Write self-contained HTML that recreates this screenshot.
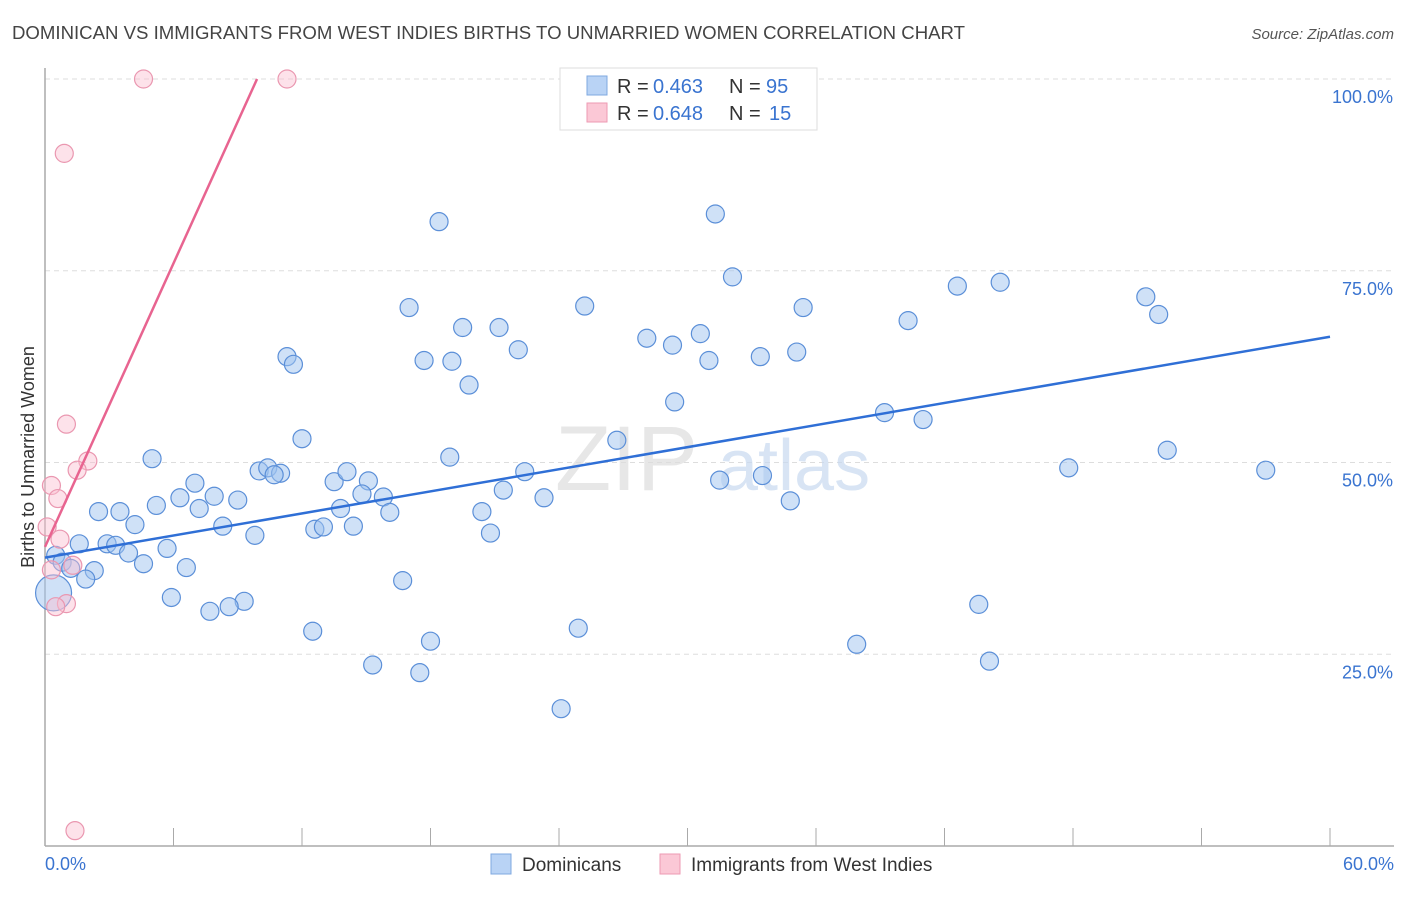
<!DOCTYPE html>
<html><head><meta charset="utf-8"><style>
body{margin:0;background:#fff;font-family:"Liberation Sans",sans-serif;}
svg text{font-family:"Liberation Sans",sans-serif;}
</style></head><body>
<svg id="chart" width="1406" height="892" viewBox="0 0 1406 892">
<text x="12" y="39" font-size="18" fill="#444" textLength="953" lengthAdjust="spacingAndGlyphs">DOMINICAN VS IMMIGRANTS FROM WEST INDIES BIRTHS TO UNMARRIED WOMEN CORRELATION CHART</text>
<text x="1394" y="39" font-size="15" fill="#555" font-style="italic" text-anchor="end">Source: ZipAtlas.com</text>
<g id="grid"></g>
<text x="555" y="490" font-size="92" fill="#ddd" font-family="Liberation Serif" opacity="0.7">ZIP</text>
<text x="718" y="490" font-size="72" fill="#c8daf0" opacity="0.7">atlas</text>
<line x1="45" y1="68" x2="45" y2="846" stroke="#aaa" stroke-width="1.5"/>
<line x1="45" y1="846" x2="1394" y2="846" stroke="#aaa" stroke-width="1.5"/>
<g id="ticks"></g>
<text transform="translate(34,457) rotate(-90)" font-size="18" fill="#333" text-anchor="middle">Births to Unmarried Women</text>
<text x="45" y="870" font-size="18" fill="#3a74d0">0.0%</text>
<text x="1394" y="870" font-size="18" fill="#3a74d0" text-anchor="end">60.0%</text>
<g id="points"></g>
<g id="trends"></g>
<g>
<rect x="560" y="68" width="257" height="62" fill="#fff" stroke="#ddd"/>
<rect x="587" y="76" width="20" height="19" fill="#b9d3f5" stroke="#7fa8e0"/>
<rect x="587" y="103" width="20" height="19" fill="#fbc8d6" stroke="#ee9ab3"/>
<text x="617" y="93" font-size="20" fill="#333">R =</text>
<text x="653" y="93" font-size="20" fill="#3a74d0">0.463</text>
<text x="729" y="93" font-size="20" fill="#333">N =</text>
<text x="766" y="93" font-size="20" fill="#3a74d0">95</text>
<text x="617" y="120" font-size="20" fill="#333">R =</text>
<text x="653" y="120" font-size="20" fill="#3a74d0">0.648</text>
<text x="729" y="120" font-size="20" fill="#333">N =</text>
<text x="769" y="120" font-size="20" fill="#3a74d0">15</text>
</g>
<g>
<rect x="491" y="854" width="20" height="20" fill="#b9d3f5" stroke="#7fa8e0"/>
<text x="522" y="871" font-size="19" fill="#333">Dominicans</text>
<rect x="660" y="854" width="20" height="20" fill="#fbc8d6" stroke="#ee9ab3"/>
<text x="691" y="871" font-size="19" fill="#333">Immigrants from West Indies</text>
</g>
</svg>
<script>
const yTicks=[25,50,75,100];
const yTickLabels=["25.0%","50.0%","75.0%","100.0%"];
const xTicks=[6,12,18,24,30,36,42,48,54,60];
const blueX=[18.4,31.3,32.1,17.0,25.2,35.4,42.6,44.6,51.4,52.0,40.3,19.5,21.2,22.1,28.1,29.3,30.6,31.0,33.4,35.1,11.3,11.6,17.7,19.0,19.8,29.4,39.2,41.0,26.7,12.0,5.0,18.9,52.4,57.0,33.5,7.0,13.5,10.0,10.4,11.0,10.7,14.1,22.4,47.8,15.1,31.5,21.4,14.8,15.8,23.3,34.8,6.3,7.9,9.0,5.2,7.2,13.8,20.4,16.1,2.5,3.5,4.2,8.3,9.8,12.6,13.0,14.4,20.8,1.6,2.9,3.3,3.9,5.7,0.5,0.8,1.2,4.6,6.6,2.3,1.9,5.9,9.3,8.6,7.7,16.7,43.6,12.5,18.0,24.9,37.9,15.3,17.5,44.1,24.1,0.4];
const blueY=[81.4,82.4,74.2,70.2,70.4,70.2,73.0,73.5,71.6,69.3,68.5,67.6,67.6,64.7,66.2,65.3,66.8,63.3,63.8,64.4,63.8,62.8,63.3,63.2,60.1,57.9,56.5,55.6,52.9,53.1,50.5,50.7,51.6,49.0,48.3,47.3,47.5,48.9,49.3,48.6,48.4,48.8,48.8,49.3,47.6,47.7,46.4,45.9,45.5,45.4,45.0,45.4,45.6,45.1,44.4,44.0,44.0,43.6,43.5,43.6,43.6,41.9,41.7,40.5,41.3,41.6,41.7,40.8,39.4,39.4,39.2,38.2,38.8,37.9,37.0,36.2,36.8,36.3,35.9,34.8,32.4,31.9,31.2,30.6,34.6,31.5,28.0,26.7,28.4,26.3,23.6,22.6,24.1,17.9,33.0];
const pinkX=[4.6,11.3,0.9,1.0,2.0,1.5,0.3,0.6,0.1,0.7,1.3,1.0,0.5,1.4,0.3];
const pinkY=[100,100,90.3,55.0,50.2,49.0,47.0,45.3,41.6,40.0,36.6,31.6,31.2,2.0,36.0];
const X=v=>45+v/60*1285, Y=v=>846-v/100*767;
const NS="http://www.w3.org/2000/svg";
const grid=document.getElementById('grid'),ticks=document.getElementById('ticks');
yTicks.forEach((t,i)=>{
 const l=document.createElementNS(NS,'line');
 
 
 l.setAttribute('x1',45);l.setAttribute('x2',1394);l.setAttribute('y1',Y(t));l.setAttribute('y2',Y(t));
 l.setAttribute('stroke','#ddd');l.setAttribute('stroke-dasharray','5,4');grid.appendChild(l);
 const tx=document.createElementNS(NS,'text');
 
 
 tx.setAttribute('x',1393);tx.setAttribute('y',Y(t)+24);tx.setAttribute('text-anchor','end');
 tx.setAttribute('font-size','18');tx.setAttribute('fill','#3a74d0');tx.textContent=yTickLabels[i];ticks.appendChild(tx);
});
xTicks.forEach(t=>{
 const l=document.createElementNS(NS,'line');
 
 
 l.setAttribute('x1',X(t));l.setAttribute('x2',X(t));l.setAttribute('y1',828);l.setAttribute('y2',846);
 l.setAttribute('stroke','#aaa');ticks.appendChild(l);
});
const pts=document.getElementById('points');
function dot(x,y,fill,stroke,name,r){
 const c=document.createElementNS(NS,'circle');
 
 
 c.setAttribute('cx',X(x));c.setAttribute('cy',Y(y));c.setAttribute('r',r||9);
 c.setAttribute('fill',fill);c.setAttribute('stroke',stroke);c.setAttribute('stroke-width','1.2');pts.appendChild(c);
}
blueX.forEach((x,i)=>dot(x,blueY[i],'rgba(160,196,240,0.5)','#5b8fd8','dominican-point',i==blueX.length-1?18:9));
pinkX.forEach((x,i)=>dot(x,pinkY[i],'rgba(250,190,208,0.45)','#ea97b0','west-indies-point'));
const tr=document.getElementById('trends');
function line(x1,y1,x2,y2,col,name){
 const l=document.createElementNS(NS,'line');
 
 
 l.setAttribute('x1',X(x1));l.setAttribute('y1',Y(y1));l.setAttribute('x2',X(x2));l.setAttribute('y2',Y(y2));
 l.setAttribute('stroke',col);l.setAttribute('stroke-width','2.5');tr.appendChild(l);
}
line(0,37.6,60,66.4,'#2f6fd6','dominican-trend-line');
line(0,39.0,9.9,100,'#e86490','west-indies-trend-line');
</script>
</body></html>
